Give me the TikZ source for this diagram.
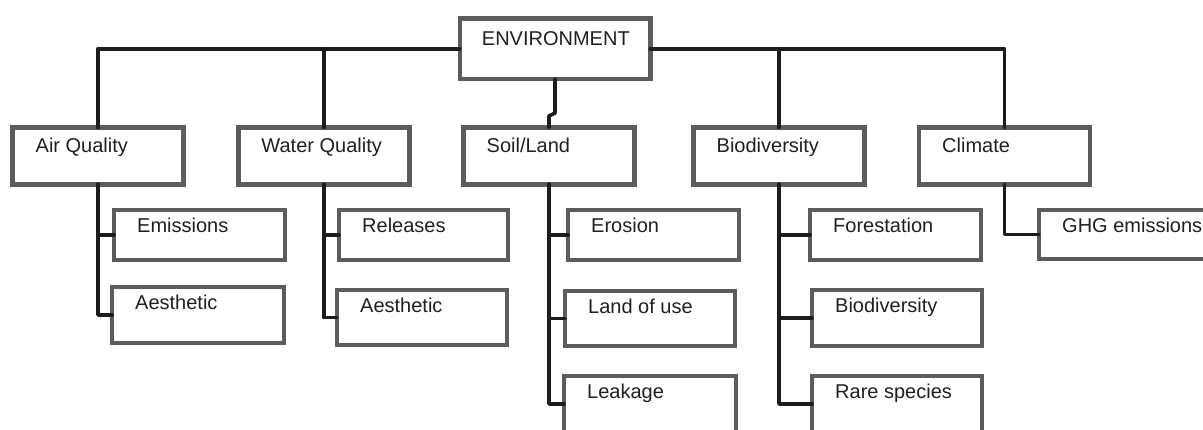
\documentclass[tikz,border=0pt]{standalone}
\usepackage{fontspec}
\setmainfont{Liberation Sans}
\begin{document}
\begin{tikzpicture}[x=1pt,y=-1pt,
  box/.style={draw=boxgray,line width=4.5pt,rectangle,inner sep=0pt,outer sep=0pt},
  lbl/.style={anchor=base west,inner sep=0pt,text=black!88,font=\fontsize{20}{22}\selectfont},
  link/.style={draw=linkgray,line width=3.8pt,line join=round,line cap=round}]
\definecolor{boxgray}{RGB}{92,92,92}
\definecolor{linkgray}{RGB}{28,28,28}
\useasboundingbox (0,0) rectangle (1203,430);
\clip (0,0) rectangle (1203,430);

% root
\node[box,minimum width=190.5pt,minimum height=60.5pt] (env) at (555,48.75) {};
\node[lbl] (envt) at ([xshift=22pt,yshift=-27.5pt]env.north west) {ENVIRONMENT};

% first level
\foreach \n/\cx/\t in {air/98/Air Quality,water/323.75/Water Quality,soil/549/{Soil/Land},bio/779/Biodiversity,clim/1004.5/Climate}{
  \node[box,minimum width=171pt,minimum height=57pt] (\n) at (\cx,156) {};
  \node[lbl] (\n t) at ([xshift=23pt,yshift=-25.5pt]\n.north west) {\t};
}

% second level: name / centre x / centre y / width / height / text
\foreach \n/\cx/\cy/\w/\h/\t in {
  emis/199.5/235/171/50/Emissions,
  aesa/198/315/172/56/Aesthetic,
  rel/423.5/235/169/50/Releases,
  aesw/422/317.5/170/55/Aesthetic,
  ero/653.5/235/171/50/Erosion,
  land/650/318.5/170/55/Land of use,
  leak/650/404/172/56/Leakage,
  fore/895.5/235/171/50/Forestation,
  biod/897/318/170/56/Biodiversity,
  rare/897/404/170/56/Rare species,
  ghg/1130/234.5/182/49/GHG emissions}{
  \node[box,minimum width=\w pt,minimum height=\h pt] (\n) at (\cx,\cy) {};
  \node[lbl] (\n t) at ([xshift=23pt,yshift=-23pt]\n.north west) {\t};
}

% root to first level
\draw[link] (env.west) -| (air.north);
\draw[link] (water.north) -- (water.north |- env.west);
\draw[link] (env.east) -| (clim.north);
\draw[link] (bio.north) -- (bio.north |- env.east);
\coordinate (jogA) at ([yshift=-34pt]env.south);
\coordinate (jogB) at ([yshift=-37pt]soil.north |- env.south);
\draw[link] (env.south) -- (jogA) -- (jogB) -- (soil.north);

% first level to second level
\draw[link] (air.south) |- (emis.west);
\draw[link] (air.south) |- (aesa.west);
\draw[link] (water.south) |- (rel.west);
\draw[link] (water.south) |- (aesw.west);
\draw[link] (soil.south) |- (ero.west);
\draw[link] (soil.south) |- (land.west);
\draw[link] (soil.south) |- (leak.west);
\draw[link] (bio.south) |- (fore.west);
\draw[link] (bio.south) |- (biod.west);
\draw[link] (bio.south) |- (rare.west);
\draw[link] (clim.south) |- (ghg.west);
\end{tikzpicture}
\end{document}
